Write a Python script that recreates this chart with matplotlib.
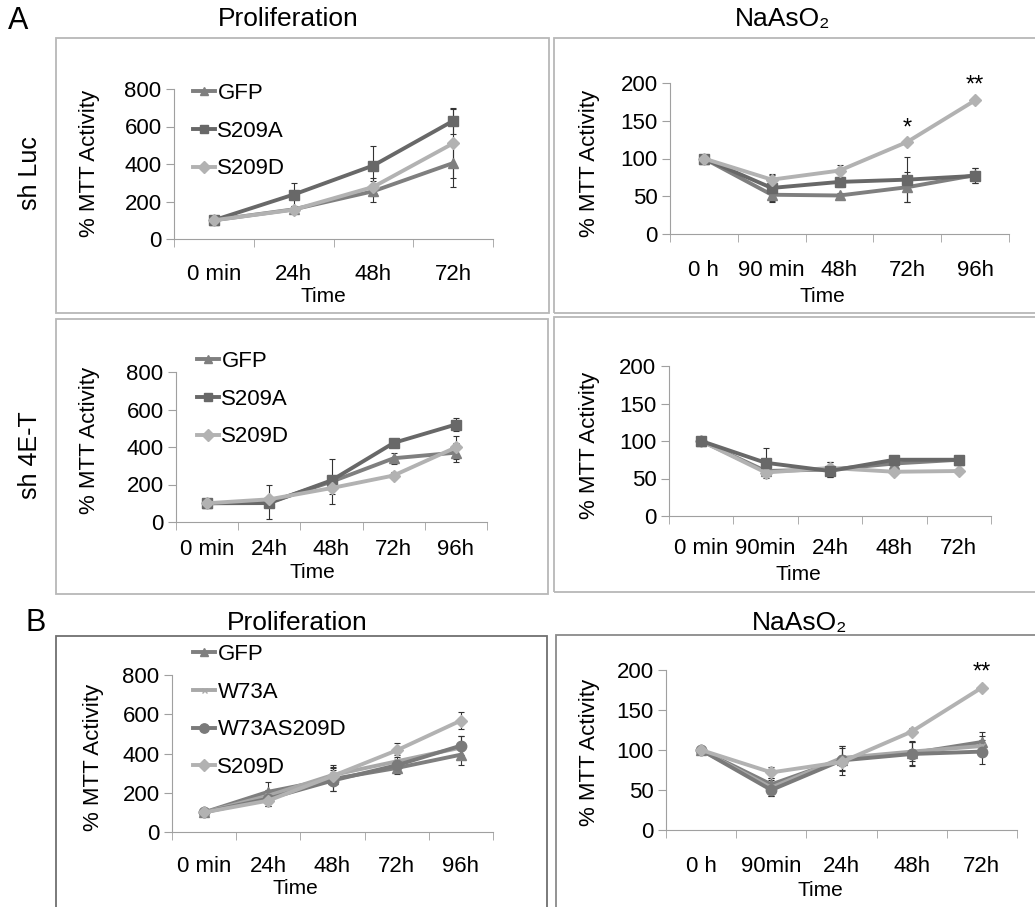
import matplotlib
matplotlib.use('Agg')
import matplotlib.pyplot as plt
from matplotlib.patches import Rectangle

plt.rcParams['font.family'] = ['Liberation Sans', 'DejaVu Sans']

# Panel A, sh Luc, proliferation
p1_cats = ['0 min', '24h', '48h', '72h']
p1_gfp = [100, 158, 255, 405]
p1_s209a = [100, 237, 392, 630]
p1_s209d = [100, 156, 278, 510]
p1_gfp_err = [0, 20, 55, 125]
p1_s209a_err = [0, 60, 105, 70]
p1_s209d_err = [0, 15, 50, 185]

# Panel A, sh Luc, NaAsO2
p2_cats = ['0 h', '90 min', '48h', '72h', '96h']
p2_gfp = [100, 52, 51, 62, 78]
p2_s209a = [100, 61, 69, 72, 77]
p2_s209d = [100, 72, 84, 122, 177]
p2_gfp_err = [0, 9, 3, 20, 10]
p2_s209a_err = [0, 17, 7, 30, 10]
p2_s209d_err = [0, 7, 8, 3, 3]

# Panel A, sh 4E-T, proliferation
p3_cats = ['0 min', '24h', '48h', '72h', '96h']
p3_gfp = [100, 105, 215, 340, 370]
p3_s209a = [100, 101, 222, 422, 520]
p3_s209d = [100, 121, 181, 248, 398]
p3_gfp_err = [0, 90, 120, 30, 50]
p3_s209a_err = [0, 15, 20, 15, 35]
p3_s209d_err = [0, 15, 30, 20, 60]

# Panel A, sh 4E-T, NaAsO2
p4_cats = ['0 min', '90min', '24h', '48h', '72h']
p4_gfp = [100, 60, 62, 70, 75]
p4_s209a = [100, 71, 60, 75, 75]
p4_s209d = [100, 58, 64, 59, 60]
p4_gfp_err = [0, 5, 10, 5, 3]
p4_s209a_err = [0, 20, 8, 4, 3]
p4_s209d_err = [0, 4, 8, 4, 2]

# Panel B, proliferation
p5_cats = ['0 min', '24h', '48h', '72h', '96h']
p5_gfp = [100, 205, 270, 326, 394]
p5_w73a = [100, 185, 290, 360, 430]
p5_w73as209d = [100, 170, 262, 340, 440]
p5_s209d = [100, 160, 285, 416, 568]
p5_gfp_err = [0, 50, 60, 30, 55]
p5_w73a_err = [0, 30, 50, 30, 60]
p5_w73as209d_err = [0, 35, 55, 25, 50]
p5_s209d_err = [0, 30, 40, 35, 42]

# Panel B, NaAsO2
p6_cats = ['0 h', '90min', '24h', '48h', '72h']
p6_gfp = [100, 57, 88, 96, 110]
p6_w73a = [100, 53, 90, 98, 105]
p6_w73as209d = [100, 50, 87, 95, 98]
p6_s209d = [100, 72, 85, 123, 178]
p6_gfp_err = [0, 8, 14, 15, 13]
p6_w73a_err = [0, 10, 15, 12, 12]
p6_w73as209d_err = [0, 8, 18, 15, 15]
p6_s209d_err = [0, 7, 5, 4, 3]

W, H = 1035, 907
fig = plt.figure(figsize=(W / 100, H / 100), dpi=100)

def fx(x):
    return x / W

def fy(y):
    return 1 - y / H

def make_ax(left, top, right, bottom):
    return fig.add_axes([fx(left), fy(bottom), fx(right - left), (bottom - top) / H])

styles = {
    'GFP': dict(color='#7f7f7f', marker='^', ms=7),
    'S209A': dict(color='#686868', marker='s', ms=7),
    'S209D': dict(color='#b2b2b2', marker='D', ms=6.5),
    'W73A': dict(color='#a8a8a8', marker='x', ms=4),
    'W73AS209D': dict(color='#7a7a7a', marker='o', ms=7.5),
}

def draw(ax, cats, series, ymax, ystep, time_xy, ylab_xy, xpad=18):
    x = list(range(len(cats)))
    for name, vals, err in series:
        ax.errorbar(x, vals, yerr=err, fmt='none', ecolor='#333333',
                    elinewidth=0.8, capsize=2, capthick=0.8, zorder=1)
    for name, vals, err in series:
        st = styles[name]
        ax.plot(x, vals, color=st['color'], lw=2.8, marker=st['marker'],
                ms=st['ms'], mec=st['color'], mfc=st['color'], label=name, zorder=2)
    ax.set_xlim(-0.5, len(cats) - 0.5)
    ax.set_ylim(0, ymax)
    ax.set_yticks(range(0, ymax + 1, ystep))
    ax.set_xticks(x)
    ax.set_xticklabels(cats)
    ax.set_xticks([i - 0.5 for i in range(len(cats) + 1)], minor=True)
    ax.tick_params(axis='x', which='major', length=0, pad=xpad, labelsize=16)
    ax.tick_params(axis='x', which='minor', length=6, color='#a0a0a0')
    ax.tick_params(axis='y', length=6, color='#a0a0a0', pad=3, labelsize=16)
    for s in ['top', 'right']:
        ax.spines[s].set_visible(False)
    for s in ['left', 'bottom']:
        ax.spines[s].set_color('#a0a0a0')
    ax.patch.set_alpha(0)
    fig.text(fx(time_xy[0]), fy(time_xy[1]), 'Time', fontsize=15,
             ha='center', va='center')
    fig.text(fx(ylab_xy[0]), fy(ylab_xy[1]), '% MTT Activity', fontsize=16,
             rotation=90, ha='center', va='center')

# frames around each panel
frames = [(56, 38, 549, 313, '#b8b8b8'), (554, 38, 1040, 313, '#b8b8b8'),
          (56, 319, 548, 594, '#b8b8b8'), (554, 317, 1040, 592, '#b8b8b8'),
          (56, 636, 547, 920, '#707070'), (556, 635, 1040, 920, '#8a8a8a')]
for l, t, r, b, c in frames:
    fig.patches.append(Rectangle((fx(l), fy(b)), fx(r - l), (b - t) / H,
                                 transform=fig.transFigure, fill=False,
                                 edgecolor=c, lw=1.3))

ax1 = make_ax(174, 89, 493, 239)
draw(ax1, p1_cats, [('GFP', p1_gfp, p1_gfp_err), ('S209A', p1_s209a, p1_s209a_err),
                    ('S209D', p1_s209d, p1_s209d_err)], 800, 200,
     (323, 296), (90, 163))

ax2 = make_ax(670, 83, 1009, 234)
draw(ax2, p2_cats, [('GFP', p2_gfp, p2_gfp_err), ('S209A', p2_s209a, p2_s209a_err),
                    ('S209D', p2_s209d, p2_s209d_err)], 200, 50,
     (822, 297), (590, 163), xpad=19)
ax2.text(3, 140, '*', ha='center', va='center', fontsize=17)
ax2.text(4, 196, '**', ha='center', va='center', fontsize=17)

ax3 = make_ax(176, 372, 487, 522)
draw(ax3, p3_cats, [('GFP', p3_gfp, p3_gfp_err), ('S209A', p3_s209a, p3_s209a_err),
                    ('S209D', p3_s209d, p3_s209d_err)], 800, 200,
     (312, 573), (90, 440), xpad=12)

ax4 = make_ax(669, 366, 991, 516)
draw(ax4, p4_cats, [('GFP', p4_gfp, p4_gfp_err), ('S209D', p4_s209d, p4_s209d_err),
                    ('S209A', p4_s209a, p4_s209a_err)], 200, 50,
     (798, 574), (590, 445), xpad=16)

ax5 = make_ax(172, 675, 493, 832)
draw(ax5, p5_cats, [('GFP', p5_gfp, p5_gfp_err), ('W73A', p5_w73a, p5_w73a_err),
                    ('W73AS209D', p5_w73as209d, p5_w73as209d_err),
                    ('S209D', p5_s209d, p5_s209d_err)], 800, 200,
     (295, 888), (93, 757), xpad=17)

ax6 = make_ax(666, 670, 1017, 830)
draw(ax6, p6_cats, [('GFP', p6_gfp, p6_gfp_err), ('W73A', p6_w73a, p6_w73a_err),
                    ('W73AS209D', p6_w73as209d, p6_w73as209d_err),
                    ('S209D', p6_s209d, p6_s209d_err)], 200, 50,
     (820, 891), (590, 752), xpad=18.5)
ax6.text(4, 197, '**', ha='center', va='center', fontsize=17)

# legends
for ax, (lx, ly) in [(ax1, (193, 83)), (ax3, (197, 351)), (ax5, (193, 644))]:
    ax.legend(loc='upper left', bbox_to_anchor=(fx(lx), fy(ly)),
              bbox_transform=fig.transFigure, frameon=False, fontsize=16,
              handlelength=1.0, handletextpad=0.1, labelspacing=0.75,
              borderpad=0, borderaxespad=0, markerscale=0.9)

# titles and panel labels
fig.text(fx(18), fy(21), 'A', fontsize=22, ha='center', va='center')
fig.text(fx(36), fy(623), 'B', fontsize=22, ha='center', va='center')
fig.text(fx(288), fy(19), 'Proliferation', fontsize=19, ha='center', va='center')
fig.text(fx(783), fy(19), 'NaAsO\u2082', fontsize=19, ha='center', va='center')
fig.text(fx(297), fy(623), 'Proliferation', fontsize=19, ha='center', va='center')
fig.text(fx(800), fy(623), 'NaAsO\u2082', fontsize=19, ha='center', va='center')
fig.text(fx(30), fy(173), 'sh Luc', fontsize=18, rotation=90, ha='center', va='center')
fig.text(fx(30), fy(455), 'sh 4E-T', fontsize=18, rotation=90, ha='center', va='center')

fig.savefig('out.png', dpi=100)
